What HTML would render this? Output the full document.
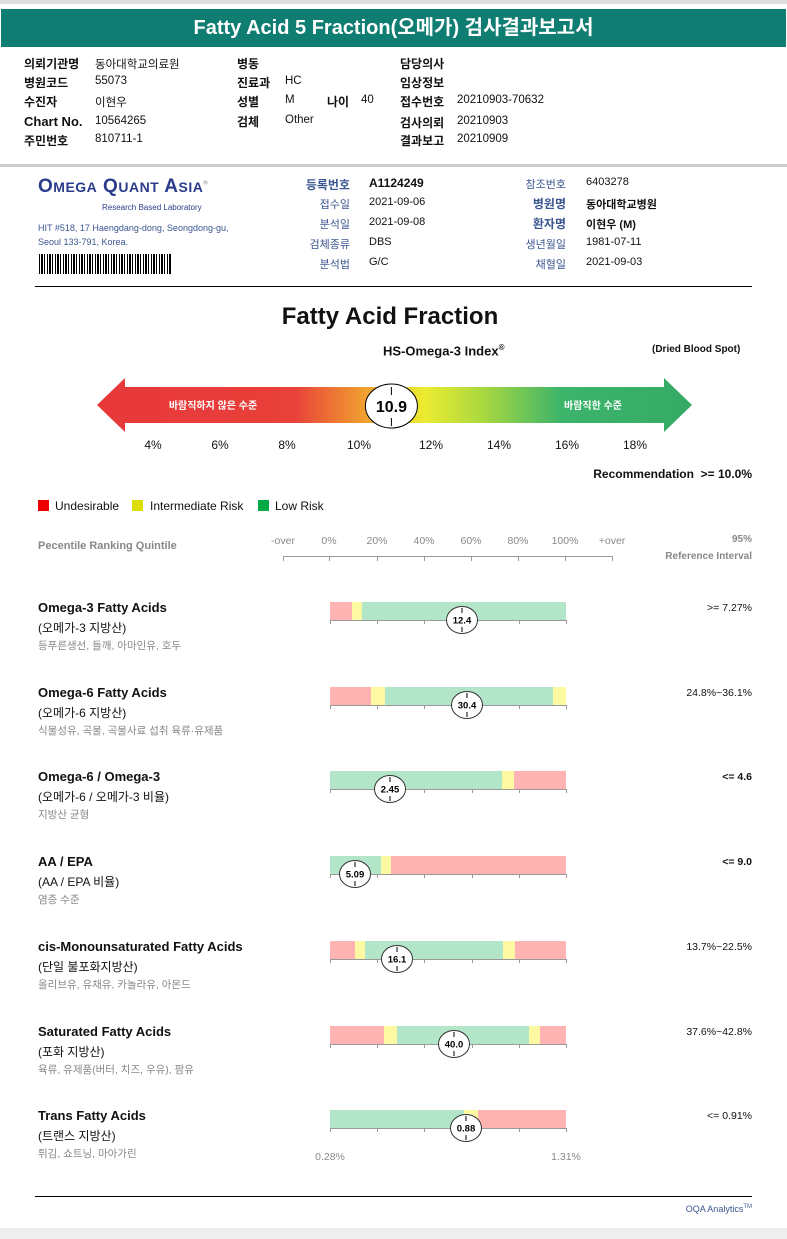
<!DOCTYPE html>
<html><head><meta charset="utf-8">
<style>
*{margin:0;padding:0;box-sizing:border-box}
body{width:787px;height:1239px;position:relative;background:#fff;font-family:"Liberation Sans","Noto Sans CJK KR",sans-serif;color:#111;overflow:hidden}
.a{position:absolute;white-space:nowrap}
.b{font-weight:bold}
.s12{font-size:12px}
.lab{font-size:12px;font-weight:bold}
.val{font-size:11.5px}
.g{color:#666}
.bl{color:#3b5690}
</style></head><body>
<div class="a" style="left:0;top:0;width:787px;height:4px;background:#ddd"></div>
<div class="a" style="left:1px;top:9px;width:785px;height:38px;background:#0f7d72;color:#fff;font-size:20px;font-weight:bold;text-align:center;line-height:38px">Fatty Acid 5 Fraction(오메가) 검사결과보고서</div>

<div>
<div class="a lab" style="left:24px;top:55px">의뢰기관명</div><div class="a val" style="left:95px;top:56px">동아대학교의료원</div>
<div class="a lab" style="left:24px;top:74px">병원코드</div><div class="a val" style="left:95px;top:75px">55073</div>
<div class="a lab" style="left:24px;top:93px">수진자</div><div class="a val" style="left:95px;top:94px">이현우</div>
<div class="a lab" style="left:24px;top:114px;font-size:13px">Chart No.</div><div class="a val" style="left:95px;top:115px">10564265</div>
<div class="a lab" style="left:24px;top:132px">주민번호</div><div class="a val" style="left:95px;top:133px">810711-1</div>
<div class="a lab" style="left:237px;top:55px">병동</div>
<div class="a lab" style="left:237px;top:74px">진료과</div><div class="a val" style="left:285px;top:75px">HC</div>
<div class="a lab" style="left:237px;top:93px">성별</div><div class="a val" style="left:285px;top:94px">M</div>
<div class="a lab" style="left:327px;top:93px">나이</div><div class="a val" style="left:361px;top:94px">40</div>
<div class="a lab" style="left:237px;top:113px">검체</div><div class="a val" style="left:285px;top:114px">Other</div>
<div class="a lab" style="left:400px;top:55px">담당의사</div>
<div class="a lab" style="left:400px;top:74px">임상정보</div>
<div class="a lab" style="left:400px;top:93px">접수번호</div><div class="a val" style="left:457px;top:94px">20210903-70632</div>
<div class="a lab" style="left:400px;top:114px">검사의뢰</div><div class="a val" style="left:457px;top:115px">20210903</div>
<div class="a lab" style="left:400px;top:132px">결과보고</div><div class="a val" style="left:457px;top:133px">20210909</div>
</div>
<div class="a" style="left:0;top:164px;width:787px;height:3px;background:#ccc"></div>

<div class="a" style="left:38px;top:176px;color:#2b3c8c;font-weight:bold;font-size:19px;letter-spacing:0.5px">O<span style="font-size:14px">MEGA</span> Q<span style="font-size:14px">UANT</span> A<span style="font-size:14px">SIA</span><sup style="font-size:6px;color:#999">®</sup></div>
<div class="a" style="left:102px;top:203px;font-size:8px;color:#2b3c8c">Research Based Laboratory</div>
<div class="a" style="left:38px;top:221px;font-size:9px;color:#3b5690;line-height:14px">HIT #518, 17 Haengdang-dong, Seongdong-gu,<br>Seoul 133-791, Korea.</div>
<div class="a" style="left:39px;top:254px;width:132px;height:20px;background:repeating-linear-gradient(90deg,#000 0 1px,#fff 1px 2px,#000 2px 4px,#fff 4px 5px,#000 5px 6px,#fff 6px 8px)"></div>

<div style="font-size:11px">
<div class="a b bl" style="left:300px;top:176px;width:50px;text-align:right;font-size:12px">등록번호</div><div class="a b" style="left:369px;top:176px;font-size:12px">A1124249</div>
<div class="a bl" style="left:300px;top:196px;width:50px;text-align:right">접수일</div><div class="a" style="left:369px;top:196px">2021-09-06</div>
<div class="a bl" style="left:300px;top:216px;width:50px;text-align:right">분석일</div><div class="a" style="left:369px;top:216px">2021-09-08</div>
<div class="a bl" style="left:290px;top:236px;width:60px;text-align:right">검체종류</div><div class="a" style="left:369px;top:236px">DBS</div>
<div class="a bl" style="left:300px;top:256px;width:50px;text-align:right">분석법</div><div class="a" style="left:369px;top:256px">G/C</div>
<div class="a bl" style="left:506px;top:176px;width:60px;text-align:right">참조번호</div><div class="a" style="left:586px;top:176px">6403278</div>
<div class="a b bl" style="left:506px;top:195px;width:60px;text-align:right;font-size:12px">병원명</div><div class="a b" style="left:586px;top:196px">동아대학교병원</div>
<div class="a b bl" style="left:506px;top:215px;width:60px;text-align:right;font-size:12px">환자명</div><div class="a b" style="left:586px;top:216px">이현우 (M)</div>
<div class="a bl" style="left:506px;top:236px;width:60px;text-align:right">생년월일</div><div class="a" style="left:586px;top:236px">1981-07-11</div>
<div class="a bl" style="left:506px;top:256px;width:60px;text-align:right">채혈일</div><div class="a" style="left:586px;top:256px">2021-09-03</div>
</div>
<div class="a" style="left:35px;top:286px;width:717px;height:1px;background:#000"></div>

<div class="a b" style="left:0;top:303px;width:780px;text-align:center;font-size:24px">Fatty Acid Fraction</div>
<div class="a b" style="left:383px;top:343px;font-size:13px">HS-Omega-3 Index<sup style="font-size:8px">®</sup></div>
<div class="a b" style="left:652px;top:344px;font-size:10px">(Dried Blood Spot)</div>

<svg class="a" style="left:0;top:370px" width="787" height="70">
<defs><linearGradient id="gr" x1="97" x2="692" gradientUnits="userSpaceOnUse">
<stop offset="0" stop-color="#e8383a"/><stop offset="0.33" stop-color="#e8403a"/><stop offset="0.45" stop-color="#f0a030"/><stop offset="0.55" stop-color="#ecec30"/><stop offset="0.65" stop-color="#a8d840"/><stop offset="0.78" stop-color="#3cb46a"/><stop offset="1" stop-color="#35aa65"/></linearGradient></defs>
<polygon points="97,35 125,8 125,17 664,17 664,8 692,35 664,62 664,53 125,53 125,62" fill="url(#gr)"/>
<text x="213" y="39" fill="#fff" font-size="10" font-weight="bold" text-anchor="middle" font-family="Liberation Sans,Noto Sans CJK KR,sans-serif">바람직하지 않은 수준</text>
<text x="593" y="39" fill="#fff" font-size="10" font-weight="bold" text-anchor="middle" font-family="Liberation Sans,Noto Sans CJK KR,sans-serif">바람직한 수준</text>
<g id="idxmark"></g>
</svg>
<div id="idxticks"></div>

<div class="a b" style="left:560px;top:467px;width:192px;text-align:right;font-size:12px">Recommendation &nbsp;&gt;= 10.0%</div>

<div style="font-size:12px">
<div class="a" style="left:38px;top:500px;width:11px;height:11px;background:#e00"></div><div class="a" style="left:55px;top:499px">Undesirable</div>
<div class="a" style="left:132px;top:500px;width:11px;height:11px;background:#dd0"></div><div class="a" style="left:150px;top:499px">Intermediate Risk</div>
<div class="a" style="left:258px;top:500px;width:11px;height:11px;background:#0a4"></div><div class="a" style="left:275px;top:499px">Low Risk</div>
</div>

<div class="a b g" style="left:38px;top:540px;font-size:11px;color:#888">Pecentile Ranking Quintile</div>
<div class="a b" style="left:640px;top:531px;width:112px;text-align:right;font-size:10px;color:#888;line-height:17px">95%<br>Reference Interval</div>
<div id="ptile"></div>
<div id="rows"></div>

<div class="a" style="left:35px;top:1196px;width:717px;height:1px;background:#000"></div>
<div class="a" style="left:640px;top:1204px;width:112px;text-align:right;font-size:9px;color:#3b5690">OQA Analytics<sup style="font-size:6px">TM</sup></div>
<div class="a" style="left:0;top:1228px;width:787px;height:11px;background:#eee"></div>

<script>
// HS-Omega-3 index scale
const idxTicks=[4,6,8,10,12,14,16,18];
const idxTickX=[153,220,287,359,431,499,567,635];
const idxValue=10.9;
// percentile header
const pctLabels=["-over","0%","20%","40%","60%","80%","100%","+over"];
// rows
const rowTitles=["Omega-3 Fatty Acids","Omega-6 Fatty Acids","Omega-6 / Omega-3","AA / EPA","cis-Monounsaturated Fatty Acids","Saturated Fatty Acids","Trans Fatty Acids"];
const rowKo=["(오메가-3 지방산)","(오메가-6 지방산)","(오메가-6 / 오메가-3 비율)","(AA / EPA 비율)","(단일 불포화지방산)","(포화 지방산)","(트랜스 지방산)"];
const rowFood=["등푸른생선, 들깨, 아마인유, 호두","식물성유, 곡물, 곡물사료 섭취 육류·유제품","지방산 균형","염증 수준","올리브유, 유채유, 카놀라유, 아몬드","육류, 유제품(버터, 치즈, 우유), 팜유","튀김, 쇼트닝, 마아가린"];
const rowRef=[">= 7.27%","24.8%~36.1%","<= 4.6","<= 9.0","13.7%~22.5%","37.6%~42.8%","<= 0.91%"];
const rowRefBold=[false,false,true,true,false,false,false];
const rowValues=["12.4","30.4","2.45","5.09","16.1","40.0","0.88"];
const rowMarkerPct=[55.9,58,25.4,10.6,28.4,52.5,57.6];
const segEnds=[[9.3,13.6,100],[17.4,23.3,94.5,100],[72.9,78,100],[21.6,25.8,100],[10.6,14.8,73.3,78.4,100],[22.9,28.4,84.3,89,100],[56.8,62.7,100]];
const segCols=[["r","y","g"],["r","y","g","y"],["g","y","r"],["g","y","r"],["r","y","g","y","r"],["r","y","g","y","r"],["g","y","r"]];
const colMap={r:"#ffb3b3",y:"#fdf9a3",g:"#b3e6c8"};

function idxX(v){for(let i=0;i<idxTicks.length-1;i++){if(v<=idxTicks[i+1]||i==idxTicks.length-2){const t=(v-idxTicks[i])/(idxTicks[i+1]-idxTicks[i]);return idxTickX[i]+t*(idxTickX[i+1]-idxTickX[i]);}}}
const tk=document.getElementById('idxticks');
idxTicks.forEach((v,i)=>{const d=document.createElement('div');d.className='a';


d.style.cssText=`left:${idxX(v)-20}px;top:438px;width:40px;text-align:center;font-size:12px`;d.textContent=v+'%';tk.appendChild(d);});
const mx=idxX(idxValue);
const g=document.getElementById('idxmark');


g.innerHTML=`<ellipse cx="${mx}" cy="36" rx="26" ry="22" fill="#fff" stroke="#000" stroke-width="1"/><text x="${mx}" y="42" font-size="16" font-weight="bold" text-anchor="middle" font-family="Liberation Sans,sans-serif">${idxValue}</text><line x1="${mx}" y1="17" x2="${mx}" y2="25" stroke="#000"/><line x1="${mx}" y1="48" x2="${mx}" y2="56" stroke="#000"/>`;

const BX=330,BW=236;
const pt=document.getElementById('ptile');
const pX=[283,329,377,424,471,518,565,612];
pctLabels.forEach((l,i)=>{const d=document.createElement('div');d.className='a';


d.style.cssText=`left:${pX[i]-25}px;top:535px;width:50px;text-align:center;font-size:10.5px;color:#888`;d.textContent=l;pt.appendChild(d);
const t=document.createElement('div');t.className='a';


t.style.cssText=`left:${pX[i]}px;top:556px;width:1px;height:5px;background:#999`;pt.appendChild(t);});
const ax=document.createElement('div');ax.className='a';


ax.style.cssText=`left:283px;top:556px;width:330px;height:1px;background:#999`;pt.appendChild(ax);

const rows=document.getElementById('rows');
rowTitles.forEach((t,i)=>{
 const y=600+i*84.7;
 const w=document.createElement('div');
 
 
 let h=`<div class="a b" style="left:38px;top:${y}px;font-size:13px">${t}</div>
 <div class="a" style="left:38px;top:${y+19}px;font-size:12px">${rowKo[i]}</div>
 <div class="a" style="left:38px;top:${y+38}px;font-size:10.5px;color:#888">${rowFood[i]}</div>
 <div class="a${rowRefBold[i]?' b':''}" style="left:600px;top:${y+2}px;width:152px;text-align:right;font-size:10.5px">${rowRef[i]}</div>`;
 let prev=0;
 segEnds[i].forEach((e,j)=>{h+=`<div class="a" style="left:${BX+prev/100*BW}px;top:${y+2}px;width:${(e-prev)/100*BW+0.5}px;height:18px;background:${colMap[segCols[i][j]]}"></div>`;prev=e;});
 h+=`<div class="a" style="left:${BX}px;top:${y+20}px;width:${BW}px;height:1px;background:#999"></div>`;
 for(let k=0;k<=5;k++)h+=`<div class="a" style="left:${BX+k*BW/5}px;top:${y+20}px;width:1px;height:4px;background:#999"></div>`;
 const m=BX+rowMarkerPct[i]/100*BW;
 h+=`<svg class="a" style="left:${m-21}px;top:${y+5}px" width="42" height="30"><ellipse cx="21" cy="15" rx="15.5" ry="13.5" fill="#fff" stroke="#333"/><text x="21" y="18.5" font-size="9.5" font-weight="bold" text-anchor="middle" font-family="Liberation Sans,sans-serif">${rowValues[i]}</text><line x1="21" y1="3" x2="21" y2="8" stroke="#000"/><line x1="21" y1="22" x2="21" y2="27" stroke="#000"/></svg>`;
 w.innerHTML=h;rows.appendChild(w);
});
const l1=document.createElement('div');l1.className='a';


l1.style.cssText='left:305px;top:1151px;width:50px;text-align:center;font-size:10.5px;color:#888';l1.textContent='0.28%';rows.appendChild(l1);
const l2=document.createElement('div');l2.className='a';


l2.style.cssText='left:541px;top:1151px;width:50px;text-align:center;font-size:10.5px;color:#888';l2.textContent='1.31%';rows.appendChild(l2);
</script>
</body></html>
